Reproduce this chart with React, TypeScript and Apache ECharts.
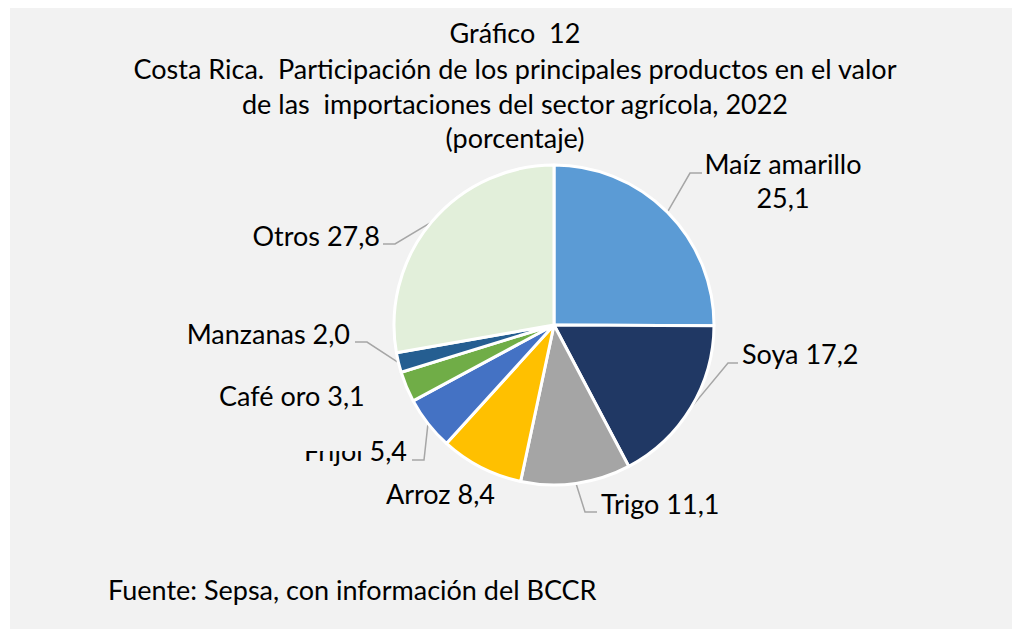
import React, { useEffect, useRef } from "react";
import * as echarts from "echarts";

const categories = ["Maíz amarillo", "Soya", "Trigo", "Arroz", "Frijol", "Café oro", "Manzanas", "Otros"];
const values = [25.1, 17.2, 11.1, 8.4, 5.4, 3.1, 2.0, 27.8];
const colors = ["#5b9bd5", "#203864", "#a5a5a5", "#ffc000", "#4472c4", "#70ad47", "#255e91", "#e2efda"];
const titleLines = [
  "Gráfico  12",
  "Costa Rica.  Participación de los principales productos en el valor",
  "de las  importaciones del sector agrícola, 2022",
  "(porcentaje)",
];
const footnote = "Fuente: Sepsa, con información del BCCR";

const FONT = "Lato";
const FS = 27;

// label placement (container coords)
type LP = { x: number; y: number; align: "left" | "right" | "center"; va?: "middle" | "top"; br?: boolean; elbow?: number[]; end?: number[]; pad?: number[]; bg?: boolean };
const labelPos: LP[] = [
  { x: 773, y: 172, align: "center", br: true, elbow: [680, 165], end: [692, 165] },
  { x: 732, y: 345, align: "left", elbow: [718, 355], end: [728, 355] },
  { x: 591, y: 495, align: "left", elbow: [575, 504], end: [587, 504] },
  { x: 376, y: 485, align: "left" },
  { x: 397, y: 442, align: "right", elbow: [414, 452], end: [402, 452] },
  { x: 209, y: 370, align: "left", va: "top", bg: true, pad: [0, 0, 39, 0] },
  { x: 340, y: 325, align: "right", elbow: [357, 334], end: [345, 334] },
  { x: 370, y: 227, align: "right", elbow: [385, 236], end: [373, 236] },
];

const CENTER = [544, 317];
const RADIUS = 160;

const fmt = (v: number) => v.toFixed(1).replace(".", ",");

export default function App() {
  const ref = useRef<HTMLDivElement>(null);
  useEffect(() => {
    if (!ref.current) return;
    const chart = echarts.init(ref.current, null, { renderer: "svg" });
    const total = values.reduce((a, b) => a + b, 0);
    const anchors: number[][] = [];
    let cum = 0;
    values.forEach((v) => {
      const mid = ((cum + v / 2) / total) * Math.PI * 2;
      anchors.push([CENTER[0] + RADIUS * Math.sin(mid), CENTER[1] - RADIUS * Math.cos(mid)]);
      cum += v;
    });
    const data = categories.map((name, i) => {
      const L = labelPos[i];
      return {
        name,
        value: values[i],
        itemStyle: { color: colors[i] },
        label: {
          formatter: L.br ? `${name}\n${fmt(values[i])}` : `${name} ${fmt(values[i])}`,
          backgroundColor: L.bg ? "#f2f2f2" : "transparent",
          padding: L.pad || 0,
        },
        labelLine: { show: !!L.elbow },
      };
    });
    chart.setOption({
      animation: false,
      backgroundColor: "transparent",
      graphic: [
        ...titleLines.map((t, i) => ({
          type: "text",
          x: 505,
          y: [24, 60, 95, 129][i],
          style: {
            text: t,
            font: `${FS}px ${FONT}`,
            fill: "#000",
            align: "center",
            verticalAlign: "middle",
          },
        })),
        {
          type: "text",
          x: 98,
          y: 581,
          style: { text: footnote, font: `${FS}px ${FONT}`, fill: "#000", align: "left", verticalAlign: "middle" },
        },
      ],
      series: [
        {
          type: "pie",
          center: CENTER,
          radius: RADIUS,
          startAngle: 90,
          clockwise: true,
          avoidLabelOverlap: false,
          itemStyle: { borderColor: "#ffffff", borderWidth: 3 },
          label: {
            show: true,
            position: "outside",
            color: "#000",
            fontFamily: FONT,
            fontSize: FS,
            lineHeight: 34,
          },
          labelLine: { show: true, lineStyle: { color: "#a6a6a6", width: 1.5 } },
          labelLayout: (params: any) => {
            const i = params.dataIndex;
            const L = labelPos[i];
            const out: any = { x: L.x, y: L.y, align: L.align, verticalAlign: L.va || "middle" };
            if (L.elbow && L.end) {
              const a = params.labelLinePoints && params.labelLinePoints[0] ? params.labelLinePoints[0] : anchors[i];
              out.labelLinePoints = [a, L.elbow, L.end];
            }
            return out;
          },
          emphasis: { disabled: true },
          data,
        },
      ],
    });
    return () => chart.dispose();
  }, []);
  return (
    <div
      ref={ref}
      style={{ position: "fixed", left: 10, top: 8, width: 1002, height: 621, background: "#f2f2f2" }}
    />
  );
}
